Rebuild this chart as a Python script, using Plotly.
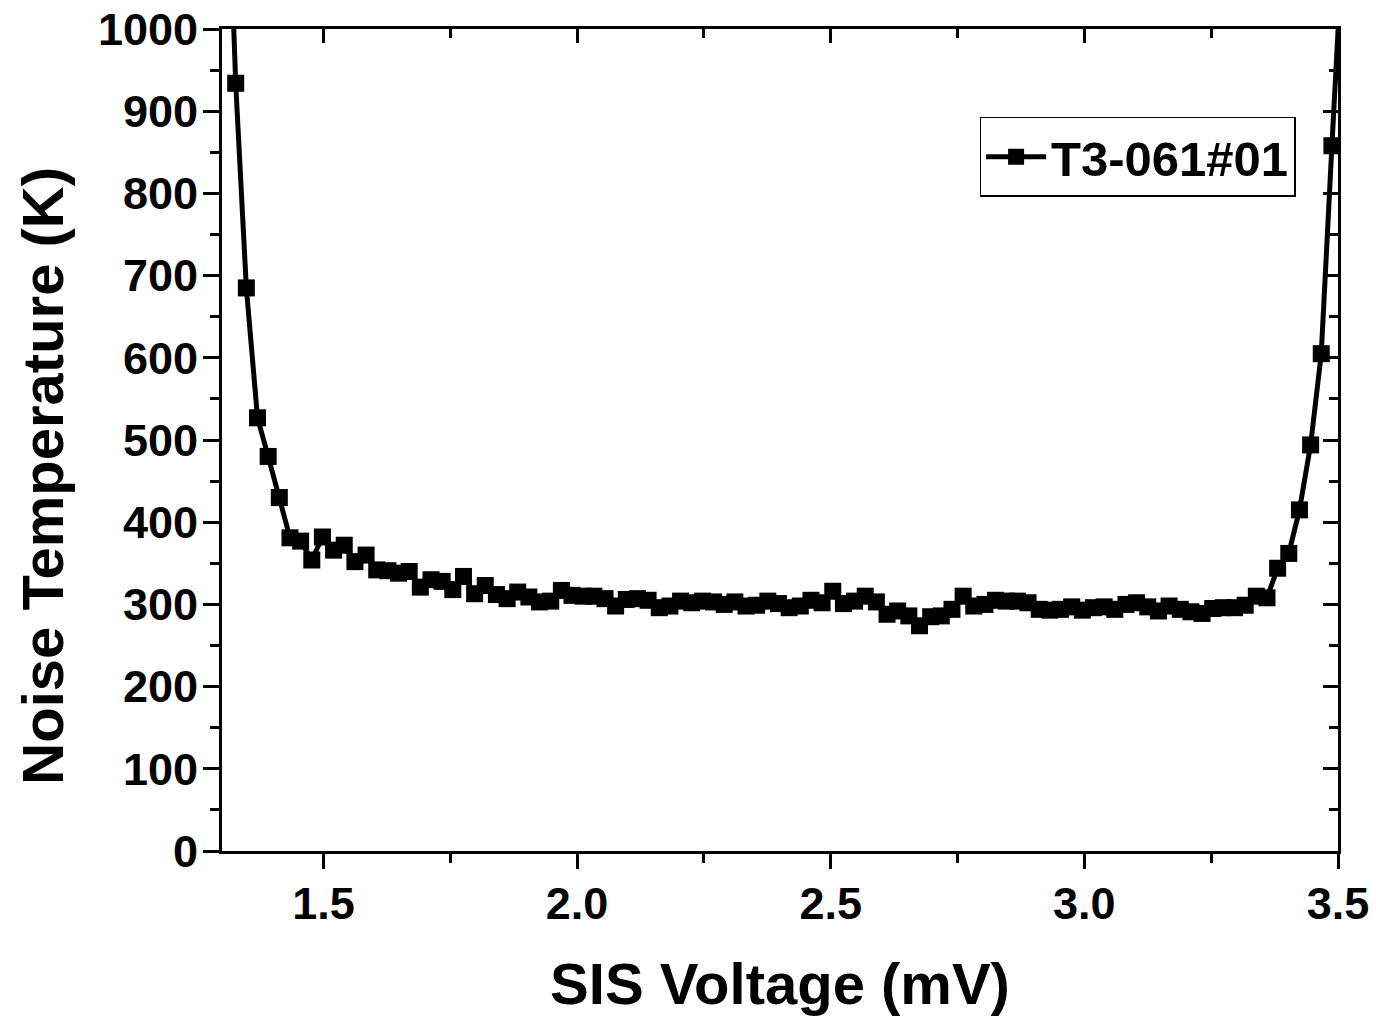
import plotly.graph_objects as go

voltage_mV = [
    1.306, 1.327, 1.348, 1.370, 1.391, 1.413, 1.434, 1.455, 1.477, 1.498, 1.520,
    1.541, 1.562, 1.584, 1.605, 1.627, 1.648, 1.669, 1.691, 1.712, 1.734,
    1.755, 1.776, 1.798, 1.819, 1.841, 1.862, 1.883, 1.905, 1.926, 1.948,
    1.969, 1.990, 2.012, 2.033, 2.055, 2.076, 2.097, 2.119, 2.140, 2.162,
    2.183, 2.204, 2.226, 2.247, 2.269, 2.290, 2.311, 2.333, 2.354, 2.376,
    2.397, 2.418, 2.440, 2.461, 2.483, 2.504, 2.525, 2.547, 2.568, 2.590,
    2.611, 2.632, 2.654, 2.675, 2.697, 2.718, 2.739, 2.761, 2.782, 2.804,
    2.825, 2.846, 2.868, 2.889, 2.911, 2.932, 2.953, 2.975, 2.996, 3.018,
    3.039, 3.060, 3.082, 3.103, 3.125, 3.146, 3.167, 3.189, 3.210, 3.232,
    3.253, 3.274, 3.296, 3.317, 3.339, 3.360, 3.381, 3.403, 3.424, 3.446,
    3.467, 3.488, 3.510,
]

noise_temp_K = [
    1300, 934, 685, 527, 480, 430, 381, 377, 354, 382, 366,
    372, 352, 360, 342, 341, 338, 340, 321, 330, 328,
    318, 334, 313, 323, 312, 307, 315, 309, 303, 304,
    317, 311, 310, 310, 307, 298, 306, 307, 305, 296,
    298, 304, 302, 304, 303, 300, 303, 298, 299, 304,
    301, 296, 298, 305, 302, 316, 301, 304, 310, 303,
    288, 292, 286, 274, 285, 286, 294, 310, 298, 300,
    305, 304, 304, 302, 294, 293, 294, 297, 293, 296,
    297, 294, 300, 302, 297, 292, 298, 294, 291, 289,
    295, 296, 296, 299, 310, 308, 344, 362, 415, 494,
    605, 858, 1113,
]

series_name = "T3-061#01"
x_title = "SIS Voltage (mV)"
y_title = "Noise Temperature (K)"
x_range = [1.3, 3.5]
y_range = [0, 1000]
x_ticks = [1.5, 2.0, 2.5, 3.0, 3.5]
y_ticks = [0, 100, 200, 300, 400, 500, 600, 700, 800, 900, 1000]

FONT = "Liberation Sans, Arial, sans-serif"

fig = go.Figure()
fig.add_trace(go.Scatter(
    x=voltage_mV, y=noise_temp_K, mode="lines+markers", name=series_name,
    line=dict(color="black", width=5),
    marker=dict(symbol="square", size=17, color="black", line=dict(width=0)),
    xaxis="x", yaxis="y",
))
# invisible trace so mirrored axes render
fig.add_trace(go.Scatter(
    x=[x_range[0]], y=[y_range[0]], mode="markers", showlegend=False,
    marker=dict(opacity=0), xaxis="x2", yaxis="y2", hoverinfo="skip",
))

tickfont = dict(family=FONT, size=45, color="black", weight="bold")
titlefont = dict(family=FONT, size=58, color="black", weight="bold")

fig.update_layout(
    width=1376, height=1019,
    margin=dict(l=222, r=38, t=29, b=168, autoexpand=False),
    paper_bgcolor="white", plot_bgcolor="white",
    showlegend=True,
    legend=dict(
        x=0.962, xanchor="right", y=0.893, yanchor="top",
        bordercolor="black", borderwidth=1.5, bgcolor="white",
        font=dict(family=FONT, size=49, color="black", weight="bold"),
        itemwidth=60,
    ),
    xaxis=dict(
        range=x_range, tickvals=x_ticks, tickformat=".1f", automargin=False,
        showline=True, linecolor="black", linewidth=3,
        ticks="outside", ticklen=15, tickwidth=2.5, tickcolor="black",
        minor=dict(ticks="outside", ticklen=9, tickwidth=2.5, tickcolor="black", dtick=0.25),
        showgrid=False, zeroline=False, tickfont=tickfont,
        title=dict(text=x_title, font=titlefont, standoff=36),
        ticklabelstandoff=-4,
    ),
    yaxis=dict(
        range=y_range, tickvals=y_ticks, automargin=False,
        showline=True, linecolor="black", linewidth=3,
        ticks="outside", ticklen=16, tickwidth=2.5, tickcolor="black",
        minor=dict(ticks="outside", ticklen=9, tickwidth=2.5, tickcolor="black", dtick=50),
        showgrid=False, zeroline=False, tickfont=tickfont,
        ticklabelstandoff=-4,
    ),
    xaxis2=dict(
        range=x_range, overlaying="x", side="top", tickvals=x_ticks, automargin=False,
        showticklabels=False, showline=True, linecolor="black", linewidth=3,
        ticks="inside", ticklen=14, tickwidth=2.5, tickcolor="black",
        minor=dict(ticks="inside", ticklen=9, tickwidth=2.5, tickcolor="black", dtick=0.25),
        showgrid=False, zeroline=False,
    ),
    yaxis2=dict(
        range=y_range, overlaying="y", side="right", tickvals=y_ticks, automargin=False,
        showticklabels=False, showline=True, linecolor="black", linewidth=3,
        ticks="inside", ticklen=15, tickwidth=2.5, tickcolor="black",
        minor=dict(ticks="inside", ticklen=9, tickwidth=2.5, tickcolor="black", dtick=50),
        showgrid=False, zeroline=False,
    ),
    annotations=[dict(
        text=y_title, textangle=-90, showarrow=False,
        xref="paper", yref="paper", x=-0.161, y=0.457,
        xanchor="center", yanchor="middle", font=titlefont,
    )],
)

fig.write_html("out.html")
